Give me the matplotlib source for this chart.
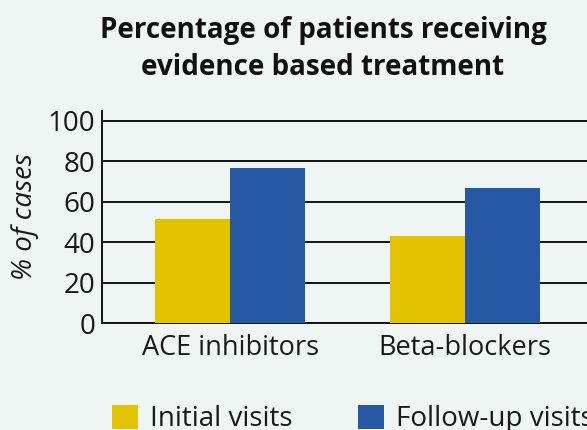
import matplotlib
matplotlib.use("Agg")
import matplotlib.pyplot as plt
import numpy as np
from matplotlib.patches import Patch

categories = ["ACE inhibitors", "Beta-blockers"]
initial = [51.5, 43]
followup = [76.5, 67]
series_names = ["Initial visits", "Follow-up visits"]
yticks = [0, 20, 40, 60, 80, 100]

bg = "#EFF5F3"
yellow = "#E2C400"
blue = "#2758A4"

plt.rcParams['font.family'] = ['Open Sans', 'DejaVu Sans']

fig = plt.figure(figsize=(5.87, 4.30), dpi=100, facecolor=bg)
ax = fig.add_axes([102/587, 1-323.3/430, 1-102/587, (323.3-110.7)/430])
ax.set_facecolor(bg)

x = np.arange(len(categories))
w = 0.319
ax.bar(x - w/2, initial, w, color=yellow, zorder=3)
ax.bar(x + w/2, followup, w, color=blue, zorder=3)

ax.set_xlim(-0.545, 1.519)
ax.set_ylim(0, 105)
ax.set_yticks(yticks)
ax.set_yticklabels([str(v) for v in yticks], fontsize=20, color="#1a1a1a")
ax.set_xticks(x)
ax.set_xticklabels(categories, fontsize=19.5, color="#1a1a1a")
ax.tick_params(axis='both', length=0, pad=5)
ax.tick_params(axis='x', pad=8)
ax.yaxis.grid(True, color="#111111", linewidth=1.4, zorder=1)
for s in ["top", "right"]:
    ax.spines[s].set_visible(False)
ax.spines["left"].set_color("#111111")
ax.spines["left"].set_linewidth(1.4)
ax.spines["bottom"].set_color("#111111")
ax.spines["bottom"].set_linewidth(1.4)

ax.set_ylabel("% of cases", fontsize=20, style="italic", color="#1a1a1a", labelpad=6)

fig.text(323/587, 1-49/430, "Percentage of patients receiving\nevidence based treatment",
         ha="center", va="center", fontsize=20, fontweight="bold", color="#111111",
         linespacing=1.32)

handles = [Patch(facecolor=yellow, edgecolor='none'), Patch(facecolor=blue, edgecolor='none')]
fig.legend(handles, series_names, loc="upper left", bbox_to_anchor=(112/587, 1-405/430),
           ncol=2, frameon=False, fontsize=20, borderpad=0, borderaxespad=0,
           handlelength=0.94, handleheight=0.94, handletextpad=0.43, columnspacing=2.35,
           labelcolor="#1a1a1a")

fig.savefig("out.png", dpi=100, facecolor=bg)
